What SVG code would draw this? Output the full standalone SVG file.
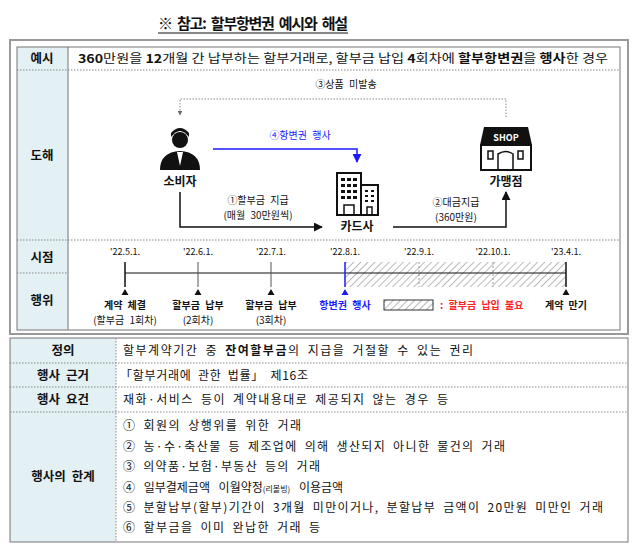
<svg xmlns="http://www.w3.org/2000/svg" width="640" height="548" viewBox="0 0 640 548">
<defs>
<style>
text{font-family:"Noto Sans CJK KR","Noto Sans",sans-serif;font-size:11px;fill:#111;word-spacing:3px}
.b{font-weight:bold}
.h{font-size:12.5px;font-weight:bold;text-anchor:middle}
.c{text-anchor:middle}
.hd{fill:#e3f0f4}
.dot{stroke:#888;stroke-width:1;stroke-dasharray:1.5 1.5;fill:none}
.ln{stroke:#111;stroke-width:1.5;fill:none}
</style>
<pattern id="hatch" width="5" height="5" patternUnits="userSpaceOnUse" patternTransform="rotate(45)">
<rect width="5" height="5" fill="#fff"/><line x1="0" y1="0" x2="0" y2="5" stroke="#777" stroke-width="1"/>
</pattern>
<marker id="ab" viewBox="0 0 10 10" refX="9" refY="5" markerWidth="6" markerHeight="6" orient="auto"><path d="M0,0L10,5L0,10z" fill="#111"/></marker>
<marker id="abl" viewBox="0 0 10 10" refX="9" refY="5" markerWidth="6" markerHeight="6" orient="auto"><path d="M0,0L10,5L0,10z" fill="#1a1aff"/></marker>
<marker id="ag" viewBox="0 0 10 10" refX="9" refY="5" markerWidth="5" markerHeight="5" orient="auto"><path d="M0,0L10,5L0,10z" fill="#666"/></marker>
</defs>
<rect width="640" height="548" fill="#fff"/>
<g id="title">
<text x="158" y="29" class="b" style="font-size:15px" textLength="190" lengthAdjust="spacing">※ 참고: 할부항변권 예시와 해설</text>
<line x1="158" y1="33" x2="348" y2="33" stroke="#111" stroke-width="1"/>
</g>
<g id="top-table">
<rect x="10" y="40" width="618" height="294" fill="#fff" stroke="#999" stroke-width="2"/>
<rect x="17" y="47" width="51" height="283" class="hd"/>
<rect x="17" y="47" width="603" height="283" fill="none" stroke="#777" stroke-width="1"/>
<line x1="68" y1="47" x2="68" y2="330" stroke="#777"/>
<line x1="17" y1="70" x2="620" y2="70" class="dot"/>
<line x1="17" y1="240" x2="620" y2="240" class="dot"/>
<line x1="17" y1="273" x2="68" y2="273" class="dot"/>
<text x="42" y="63" class="h">예시</text>
<text x="42" y="160" class="h">도해</text>
<text x="42" y="262" class="h">시점</text>
<text x="42" y="305" class="h">행위</text>
<text x="78" y="63" style="font-size:12px;word-spacing:0" textLength="530" lengthAdjust="spacingAndGlyphs"><tspan class="b">360</tspan>만원을 <tspan class="b">12</tspan>개월 간 납부하는 할부거래로, 할부금 납입 <tspan class="b">4</tspan>회차에 <tspan class="b">할부항변권</tspan>을 <tspan class="b">행사</tspan>한 경우</text>
</g>
<g id="consumer">
<circle cx="180" cy="140" r="8" fill="#111"/>
<path d="M171,137 q9,-12 18,0 l0,-4 q-9,-10 -18,0z" fill="#111"/>
<path d="M160,170 q0,-18 20,-19 q20,1 20,19z" fill="#111"/>
<path d="M177,152 l3,14 l3,-14z" fill="#fff"/>
<text x="180" y="186" class="c b" style="font-size:12px">소비자</text>
</g>
<g id="cardco">
<rect x="337" y="173" width="24" height="42" fill="#fff" stroke="#111" stroke-width="2"/>
<rect x="361" y="185" width="17" height="30" fill="#fff" stroke="#111" stroke-width="2"/>
<g fill="#111">
<rect x="341" y="178" width="4" height="3"/><rect x="347" y="178" width="4" height="3"/><rect x="353" y="178" width="4" height="3"/>
<rect x="341" y="184" width="4" height="3"/><rect x="347" y="184" width="4" height="3"/><rect x="353" y="184" width="4" height="3"/>
<rect x="341" y="190" width="4" height="3"/><rect x="347" y="190" width="4" height="3"/><rect x="353" y="190" width="4" height="3"/>
<rect x="341" y="196" width="4" height="3"/><rect x="347" y="196" width="4" height="3"/><rect x="353" y="196" width="4" height="3"/>
<rect x="365" y="190" width="3" height="2"/><rect x="371" y="190" width="3" height="2"/>
<rect x="365" y="195" width="3" height="2"/><rect x="371" y="195" width="3" height="2"/>
<rect x="365" y="200" width="3" height="2"/><rect x="371" y="200" width="3" height="2"/>
</g>
<rect x="344" y="205" width="10" height="10" fill="none" stroke="#111" stroke-width="1.5"/>
<rect x="367" y="207" width="5" height="8" fill="none" stroke="#111" stroke-width="1.5"/>
<text x="357" y="231" class="c b" style="font-size:12px">카드사</text>
</g>
<g id="shop">
<path d="M484,127 h44 l4,18 h-52z" fill="#111"/>
<text x="506" y="141" class="c b" style="font-size:9px;fill:#fff">SHOP</text>
<rect x="481" y="145" width="50" height="25" fill="#fff" stroke="#111" stroke-width="2"/>
<rect x="488" y="151" width="5" height="8" fill="none" stroke="#111" stroke-width="1.5"/>
<rect x="518" y="151" width="5" height="8" fill="none" stroke="#111" stroke-width="1.5"/>
<path d="M498,170 v-16 q8,-5 15,0 v16" fill="none" stroke="#111" stroke-width="1.5"/>
<text x="506" y="186" class="c b" style="font-size:12px">가맹점</text>
</g>
<g id="connectors">
<path d="M506,117 V99 H180 V115" class="dot" stroke="#666" marker-end="url(#ag)"/>
<text x="346" y="88" class="c" style="font-size:10px">③상품 미발송</text>
<path d="M213,149 H357 V162" fill="none" stroke="#1a1aff" stroke-width="1.5" marker-end="url(#abl)"/>
<text x="300" y="139" class="c" style="font-size:10px;fill:#1a1aff">④항변권 행사</text>
<path d="M180,192 V227 H322" class="ln" marker-end="url(#ab)"/>
<text x="258" y="204" class="c" style="font-size:10px">①할부금 지급</text>
<text x="258" y="219" class="c" style="font-size:10px">(매월 30만원씩)</text>
<path d="M393,227 H506 V192" class="ln" marker-end="url(#ab)"/>
<text x="456" y="206" class="c" style="font-size:10px">②대금지급</text>
<text x="456" y="221" class="c" style="font-size:10px">(360만원)</text>
</g>
<g id="timeline">
<rect x="345" y="262" width="221" height="25" fill="url(#hatch)"/>
<line x1="419" y1="262" x2="419" y2="287" stroke="#999" stroke-dasharray="2 2"/>
<line x1="493" y1="262" x2="493" y2="287" stroke="#999" stroke-dasharray="2 2"/>
<line x1="125" y1="273" x2="566" y2="273" stroke="#111" stroke-width="1.2"/>
<line x1="125" y1="262" x2="125" y2="287" stroke="#111" stroke-width="1.5"/>
<line x1="198" y1="262" x2="198" y2="287" stroke="#555"/>
<line x1="271" y1="262" x2="271" y2="287" stroke="#555"/>
<line x1="345" y1="262" x2="345" y2="287" stroke="#1a1aff" stroke-width="1.5"/>
<line x1="566" y1="262" x2="566" y2="287" stroke="#111" stroke-width="1.5"/>
<text x="125" y="255" class="c" style="font-size:9px">'22.5.1.</text>
<text x="198" y="255" class="c" style="font-size:9px">'22.6.1.</text>
<text x="271" y="255" class="c" style="font-size:9px">'22.7.1.</text>
<text x="345" y="255" class="c" style="font-size:9px">'22.8.1.</text>
<text x="419" y="255" class="c" style="font-size:9px">'22.9.1.</text>
<text x="493" y="255" class="c" style="font-size:9px">'22.10.1.</text>
<text x="566" y="255" class="c" style="font-size:9px">'23.4.1.</text>
<path d="M125,289 l-3.5,6 h7z M198,289 l-3.5,6 h7z M271,289 l-3.5,6 h7z M566,289 l-3.5,6 h7z" fill="#111"/>
<path d="M345,289 l-3.5,6 h7z" fill="#1a1aff"/>
<text x="125" y="309" class="c b" style="font-size:10px">계약 체결</text>
<text x="125" y="324" class="c" style="font-size:10px">(할부금 1회차)</text>
<text x="198" y="309" class="c b" style="font-size:10px">할부금 납부</text>
<text x="198" y="324" class="c" style="font-size:10px">(2회차)</text>
<text x="271" y="309" class="c b" style="font-size:10px">할부금 납부</text>
<text x="271" y="324" class="c" style="font-size:10px">(3회차)</text>
<text x="345" y="309" class="c b" style="font-size:10px;fill:#1a1aff">항변권 행사</text>
<rect x="384" y="300" width="49" height="10" fill="url(#hatch)" stroke="#333"/>
<text x="440" y="309" class="b" style="font-size:10px;fill:#ff2020">: 할부금 납입 불요</text>
<text x="566" y="309" class="c b" style="font-size:10px">계약 만기</text>
</g>
<g id="bottom-table">
<rect x="10" y="338" width="106" height="204" class="hd"/>
<rect x="10" y="338" width="618" height="204" fill="none" stroke="#777"/>
<line x1="116" y1="338" x2="116" y2="542" class="dot"/>
<line x1="10" y1="363" x2="628" y2="363" class="dot"/>
<line x1="10" y1="387" x2="628" y2="387" class="dot"/>
<line x1="10" y1="412" x2="628" y2="412" class="dot"/>
<text x="63" y="355" class="h">정의</text>
<text x="63" y="380" class="h">행사 근거</text>
<text x="63" y="404" class="h">행사 요건</text>
<text x="63" y="481" class="h">행사의 한계</text>
<text x="123" y="355" style="font-size:12px" textLength="350" lengthAdjust="spacing">할부계약기간 중 <tspan class="b">잔여할부금</tspan>의 지급을 거절할 수 있는 권리</text>
<text x="120" y="380" style="font-size:12px" textLength="188" lengthAdjust="spacing">「할부거래에 관한 법률」 제16조</text>
<text x="123" y="404" style="font-size:12px" textLength="325" lengthAdjust="spacing">재화·서비스 등이 계약내용대로 제공되지 않는 경우 등</text>
<text x="123" y="430" style="font-size:12px" textLength="178" lengthAdjust="spacing">① 회원의 상행위를 위한 거래</text>
<text x="123" y="451" style="font-size:12px" textLength="382" lengthAdjust="spacing">② 농·수·축산물 등 제조업에 의해 생산되지 아니한 물건의 거래</text>
<text x="123" y="471" style="font-size:12px" textLength="197" lengthAdjust="spacing">③ 의약품·보험·부동산 등의 거래</text>
<text x="123" y="492" style="font-size:12px;word-spacing:6px">④ 일부결제금액 이월약정<tspan style="font-size:8px;word-spacing:0">(리볼빙)</tspan> 이용금액</text>
<text x="123" y="512" style="font-size:12px" textLength="480" lengthAdjust="spacing">⑤ 분할납부(할부)기간이 3개월 미만이거나, 분할납부 금액이 20만원 미만인 거래</text>
<text x="123" y="532" style="font-size:12px" textLength="197" lengthAdjust="spacing">⑥ 할부금을 이미 완납한 거래 등</text>
</g>
</svg>
